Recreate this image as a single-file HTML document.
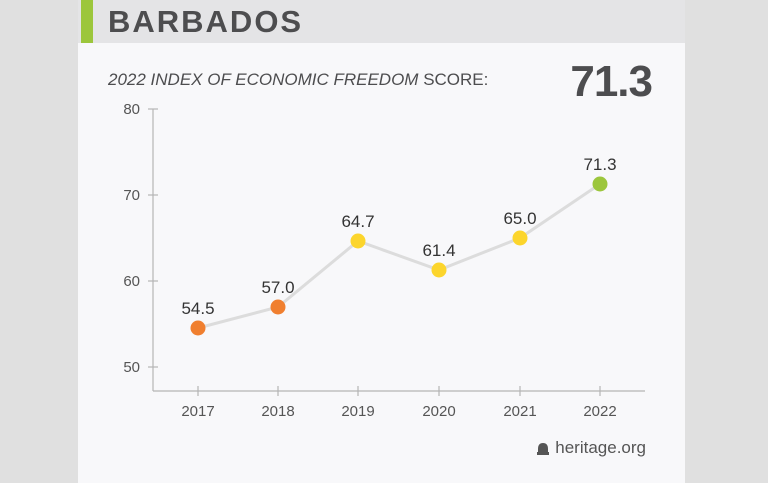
<!DOCTYPE html><html><head><style>
body{margin:0;width:768px;height:483px;background:#e0e0e0;overflow:hidden;font-family:"Liberation Sans",sans-serif}
</style></head><body>
<svg width="768" height="483" style="position:absolute;left:0;top:0">
<rect x="78" y="0" width="607" height="483" fill="#f8f8fa"/>
<rect x="78" y="0" width="607" height="43" fill="#e4e4e6"/>
<rect x="81" y="0" width="12" height="43" fill="#9cc63c"/>
<text x="108" y="32" font-size="31" font-weight="bold" fill="#4d4d4f" letter-spacing="2">BARBADOS</text>
<text x="108" y="85" font-size="17" fill="#4d4d4f"><tspan font-style="italic">2022 INDEX OF ECONOMIC FREEDOM</tspan> SCORE:</text>
<text x="652" y="96" font-size="44" font-weight="bold" fill="#4d4d4f" text-anchor="end" letter-spacing="-1">71.3</text>
<g stroke="#b5b5b5" stroke-width="1.2">
<line x1="153" y1="109" x2="153" y2="391"/><line x1="153" y1="391" x2="645" y2="391"/>
<line x1="148" y1="109" x2="158" y2="109"/><line x1="148" y1="195" x2="158" y2="195"/><line x1="148" y1="281" x2="158" y2="281"/><line x1="148" y1="367" x2="158" y2="367"/>
<line x1="198" y1="386" x2="198" y2="396"/><line x1="278" y1="386" x2="278" y2="396"/><line x1="358" y1="386" x2="358" y2="396"/><line x1="439" y1="386" x2="439" y2="396"/><line x1="520" y1="386" x2="520" y2="396"/><line x1="600" y1="386" x2="600" y2="396"/>
</g>
<g font-size="15" fill="#555" text-anchor="end">
<text x="140" y="114">80</text><text x="140" y="200">70</text><text x="140" y="286">60</text><text x="140" y="372">50</text>
</g>
<g font-size="15" fill="#555" text-anchor="middle">
<text x="198" y="416">2017</text><text x="278" y="416">2018</text><text x="358" y="416">2019</text><text x="439" y="416">2020</text><text x="520" y="416">2021</text><text x="600" y="416">2022</text>
</g>
<polyline points="198,328 278,307 358,241 439,270 520,238 600,184" fill="none" stroke="#dcdcdc" stroke-width="3"/>
<circle cx="198" cy="328" r="7.5" fill="#f07f2f"/><circle cx="278" cy="307" r="7.5" fill="#f07f2f"/>
<circle cx="358" cy="241" r="7.5" fill="#fcd52c"/><circle cx="439" cy="270" r="7.5" fill="#fcd52c"/><circle cx="520" cy="238" r="7.5" fill="#fcd52c"/>
<circle cx="600" cy="184" r="7.5" fill="#9cc63c"/>
<g font-size="17" fill="#333" text-anchor="middle">
<text x="198" y="314">54.5</text><text x="278" y="293">57.0</text><text x="358" y="227">64.7</text><text x="439" y="256">61.4</text><text x="520" y="224">65.0</text><text x="600" y="170">71.3</text>
</g>
<path d="M538 452 h10 v-3 q0-6 -5-6 q-5 0 -5 6 z M537 452 h12 v3 h-12z" fill="#555"/>
<text x="646" y="453" font-size="17" fill="#555" text-anchor="end">heritage.org</text>
</svg>
</body></html>
